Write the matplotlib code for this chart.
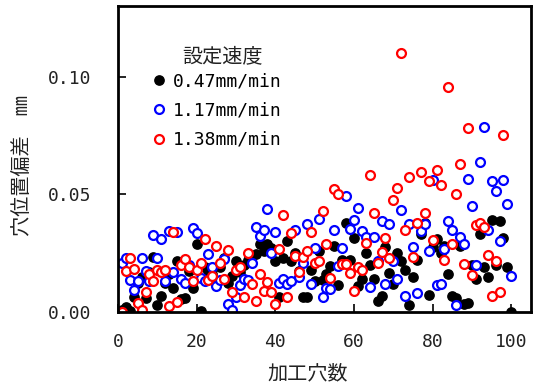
import matplotlib
matplotlib.use("Agg")
import matplotlib.pyplot as plt
import numpy as np

# hole number (x) and position deviation (mm) for each feed rate
holes = list(range(1, 101))

black_047 = [0.001, 0.002, 0.0005, 0.0064, 0.0125, 0.015, 0.006, 0.017, 0.0235, 0.003,
             0.007, 0.0125, 0.016, 0.010, 0.0218, 0.0054, 0.006, 0.0175, 0.0104, 0.029,
             0.0004, 0.019, 0.0175, 0.016, 0.0125, 0.019, 0.023, 0.0125, 0.0154, 0.0215,
             0.017, 0.020, 0.022, 0.024, 0.0245, 0.0288, 0.026, 0.0288, 0.027, 0.0218,
             0.0064, 0.023, 0.030, 0.0218, 0.025, 0.0175, 0.0064, 0.0064, 0.018, 0.013,
             0.026, 0.0138, 0.016, 0.0197, 0.028, 0.0115, 0.022, 0.0377, 0.022, 0.0313,
             0.011, 0.014, 0.025, 0.020, 0.014, 0.0047, 0.0066, 0.0275, 0.0164, 0.012,
             0.025, 0.0215, 0.018, 0.0028, 0.015, 0.022, 0.0332, 0.038, 0.0071, 0.0278,
             0.031, 0.025, 0.028, 0.0161, 0.0068, 0.006, 0.028, 0.0036, 0.004, 0.020,
             0.014, 0.033, 0.019, 0.0147, 0.039, 0.020, 0.0386, 0.0315, 0.019, 0.0]

blue_117 = [0.021, 0.023, 0.0135, 0.0092, 0.013, 0.023, 0.0175, 0.013, 0.0328, 0.0228,
            0.031, 0.013, 0.0346, 0.017, 0.034, 0.014, 0.0125, 0.020, 0.0358, 0.0335,
            0.0145, 0.013, 0.0246, 0.019, 0.011, 0.0135, 0.0225, 0.0033, 0.0007, 0.0064,
            0.0115, 0.014, 0.0135, 0.021, 0.036, 0.0325, 0.035, 0.0439, 0.025, 0.034,
            0.0125, 0.014, 0.012, 0.0132, 0.035, 0.015, 0.021, 0.0373, 0.012, 0.027,
            0.0396, 0.0064, 0.0104, 0.0097, 0.0349, 0.0197, 0.027, 0.0493, 0.0353, 0.039,
            0.0442, 0.0346, 0.032, 0.0107, 0.0318, 0.0218, 0.0386, 0.0118, 0.0375, 0.0218,
            0.014, 0.0432, 0.0068, 0.0375, 0.0278, 0.008, 0.0343, 0.0375, 0.026, 0.056,
            0.0115, 0.012, 0.0268, 0.0386, 0.0349, 0.003, 0.032, 0.029, 0.0567, 0.0449,
            0.020, 0.0637, 0.0788, 0.035, 0.0556, 0.0513, 0.030, 0.056, 0.0457, 0.0151]

red_138 = [0.000, 0.0175, 0.0228, 0.0182, 0.004, 0.0009, 0.0087, 0.016, 0.0132, 0.0178,
           0.0168, 0.018, 0.0026, 0.034, 0.0044, 0.020, 0.0225, 0.019, 0.0132, 0.018,
           0.021, 0.031, 0.0135, 0.0154, 0.028, 0.021, 0.014, 0.0265, 0.0087, 0.0178,
           0.019, 0.0064, 0.025, 0.0118, 0.0047, 0.0163, 0.009, 0.0128, 0.0083, 0.0036,
           0.0267, 0.041, 0.0064, 0.0336, 0.024, 0.017, 0.0235, 0.0258, 0.034, 0.0207,
           0.0218, 0.0428, 0.029, 0.0144, 0.0524, 0.050, 0.0204, 0.0204, 0.0164, 0.009,
           0.0192, 0.018, 0.0292, 0.0584, 0.042, 0.021, 0.0255, 0.0313, 0.023, 0.0477,
           0.0528, 0.110, 0.0349, 0.0574, 0.0235, 0.038, 0.0595, 0.042, 0.0556, 0.0306,
           0.0605, 0.054, 0.022, 0.0956, 0.029, 0.050, 0.0628, 0.0204, 0.078, 0.0157,
           0.0368, 0.0377, 0.036, 0.0242, 0.0068, 0.0218, 0.0083, 0.0752]

labels = ["0.47mm/min", "1.17mm/min", "1.38mm/min"]
x_ticks = [0, 20, 40, 60, 80, 100]
y_ticks = [0.00, 0.05, 0.10]

cjk = ["Noto Sans CJK JP", "DejaVu Sans"]
mono = ["DejaVu Sans Mono", "Noto Sans CJK JP"]

fig = plt.figure(figsize=(5.35, 3.85), dpi=100)
ax = fig.add_axes([0.2206, 0.1896, 0.7719, 0.7948])

ax.plot(holes, black_047, "o", color="black", ms=6.7, label=labels[0])
ax.plot(holes, blue_117, "o", mfc="white", mec="#0000ff", mew=1.6, ms=6.4, label=labels[1])
ax.plot(holes[:len(red_138)], red_138, "o", mfc="white", mec="#ff0000", mew=1.6, ms=6.4,
        label=labels[2])

ax.set_xlim(0, 105)
ax.set_ylim(0, 0.13)
ax.set_xticks(x_ticks)
ax.set_yticks(y_ticks)
ax.set_yticklabels(["%.2f" % v for v in y_ticks])

for s in ax.spines.values():
    s.set_linewidth(2)
ax.tick_params(direction="in", length=6, width=1.2, top=False, right=False)
ax.tick_params(axis="y", pad=19)
ax.tick_params(axis="x", pad=15)
for lab in ax.get_xticklabels() + ax.get_yticklabels():
    lab.set_family(mono)
    lab.set_fontsize(13)
    lab.set_color("#222222")

ax.set_xlabel("加工穴数", family=cjk, fontsize=14.5, color="#222222")
ax.xaxis.set_label_coords(0.46, -0.168)
ax.set_ylabel("穴位置偏差　㎜", family=cjk, fontsize=14.5, color="#222222")
ax.yaxis.set_label_coords(-0.205, 0.48)

# legend title drawn as its own text so the row spacing can be matched
ax.text(0.252, 0.835, "設定速度", transform=ax.transAxes, ha="center", va="center",
        family=cjk, fontsize=14.5, color="#222222")
leg = ax.legend(loc="upper left", bbox_to_anchor=(0.055, 0.825), frameon=False,
                handlelength=0.6, handletextpad=0.5, labelspacing=0.63,
                borderpad=0.2, prop={"family": mono, "size": 13})

fig.savefig("out.png", dpi=100)
